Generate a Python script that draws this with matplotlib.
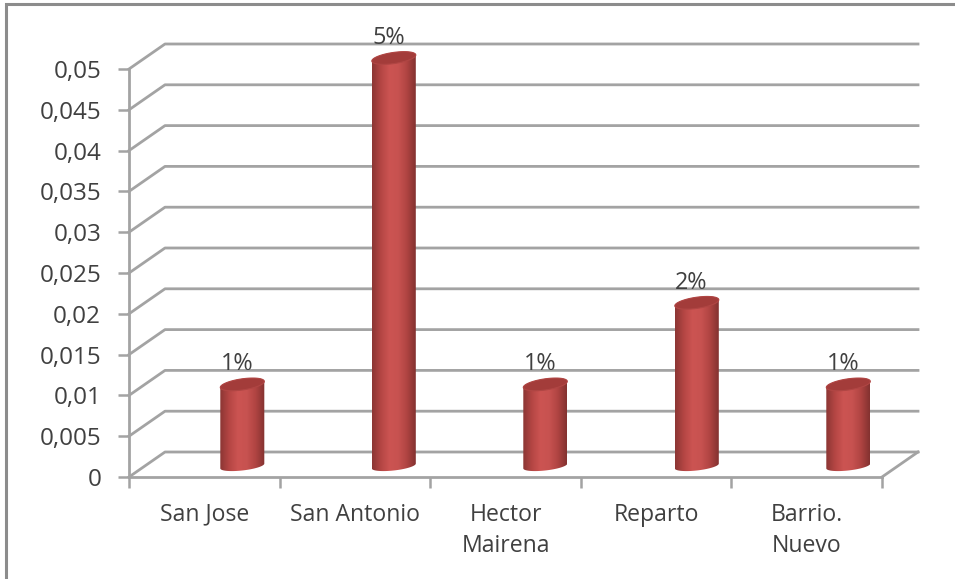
import numpy as np
import matplotlib
matplotlib.use("Agg")
import matplotlib.pyplot as plt
from matplotlib.colors import LinearSegmentedColormap
from matplotlib.patches import Polygon, Rectangle

plt.rcParams["font.family"] = ["Open Sans", "DejaVu Sans"]

categories = ["San Jose", "San Antonio", "Hector\nMairena", "Reparto", "Barrio.\nNuevo"]
values = [0.01, 0.05, 0.01, 0.02, 0.01]
bar_labels = ["1%", "5%", "1%", "2%", "1%"]
y_ticks = [0, 0.005, 0.01, 0.015, 0.02, 0.025, 0.03, 0.035, 0.04, 0.045, 0.05]
y_tick_labels = ["0", "0,005", "0,01", "0,015", "0,02", "0,025", "0,03", "0,035", "0,04", "0,045", "0,05"]

W, H = 955, 579
GRID = "#a3a3a3"
TEXT = "#404040"

fig = plt.figure(figsize=(W / 100, H / 100), dpi=100, facecolor="white")
# ejes colocados en pixeles: x 129-882, y 477-69
ax = fig.add_axes([129 / W, 1 - 477 / H, (882 - 129) / W, (477 - 69) / H])
ax.patch.set_visible(False)

px_x = 5 / (882 - 129)       # categorias por pixel
px_y = 0.05 / (477 - 69)     # valor por pixel
dx, dy = 36 * px_x, 25 * px_y  # profundidad 3D

# suelo y pared del fondo
for t in y_ticks:
    ax.plot([0, dx, 5 + dx], [t, t + dy, t + dy], color=GRID, lw=2, clip_on=False, zorder=1)
ax.plot([5, 5 + dx], [0, dy], color=GRID, lw=2, clip_on=False, zorder=1)

cmap = LinearSegmentedColormap.from_list(
    "barra", ["#8c3634", "#b54644", "#cc5452", "#c75250", "#b04442", "#843230"])
grad = np.linspace(0, 1, 64).reshape(1, -1)

half_w = 22 * px_x
base = 11 * px_y
t_par = np.linspace(0, 2 * np.pi, 91)
# elipse inclinada (izquierda mas baja)
ell_x = half_w * np.cos(t_par)
ell_y = (5.6 * np.sin(t_par) + 3 * np.cos(t_par)) * px_y

for i, (v, lab) in enumerate(zip(values, bar_labels)):
    cx = i + 0.5 + (38 + 0.9 * i) * px_x
    top_y = base + v
    # cuerpo: degradado recortado con arco inferior + arco superior
    xs = np.concatenate([cx + ell_x[45:], cx + ell_x[:46]])
    ys = np.concatenate([base + 0.8 * ell_y[45:], top_y + ell_y[:46]])
    im = ax.imshow(grad, extent=[cx - half_w, cx + half_w, 0, top_y + 10 * px_y],
                   aspect="auto", cmap=cmap, zorder=3, interpolation="bilinear")
    im.set_clip_box(fig.bbox)
    im.set_clip_path(Polygon(np.column_stack([xs, ys]), closed=True, transform=ax.transData))
    ax.add_patch(Polygon(np.column_stack([cx + ell_x, top_y + ell_y]), closed=True,
                         facecolor="#a33c3a", edgecolor="#b04644", lw=0.8, zorder=4,
                         clip_on=False))
    ax.text(cx - 5.5 * px_x, top_y + 14 * px_y, lab, ha="center", va="baseline",
            fontsize=16.8, color=TEXT, zorder=5)

ax.set_xlim(0, 5)
ax.set_ylim(0, 0.05)

ax.set_yticks(y_ticks)
ax.set_yticklabels(y_tick_labels)
ax.set_xticks(range(6))
ax.set_xticklabels([])
ax.set_xticks(np.arange(5) + 0.5, categories, minor=True, linespacing=1.42)
ax.tick_params(axis="y", length=8, width=1.8, color=GRID, labelsize=17.5, labelcolor=TEXT, pad=12)
ax.tick_params(axis="x", which="major", length=8, width=1.8, color=GRID)
ax.tick_params(axis="x", which="minor", length=0, labelsize=16.6, labelcolor=TEXT, pad=18.5)
for s in ["top", "right"]:
    ax.spines[s].set_visible(False)
for s in ["left", "bottom"]:
    ax.spines[s].set_color(GRID)
    ax.spines[s].set_linewidth(2)

# marco exterior
fig.add_artist(Rectangle((5.5 / W, -0.02), 1.1, 1 - 4 / H + 0.02, transform=fig.transFigure,
                         fill=False, edgecolor="#8c8c8c", lw=2.2))

fig.savefig("out.png", dpi=100)
